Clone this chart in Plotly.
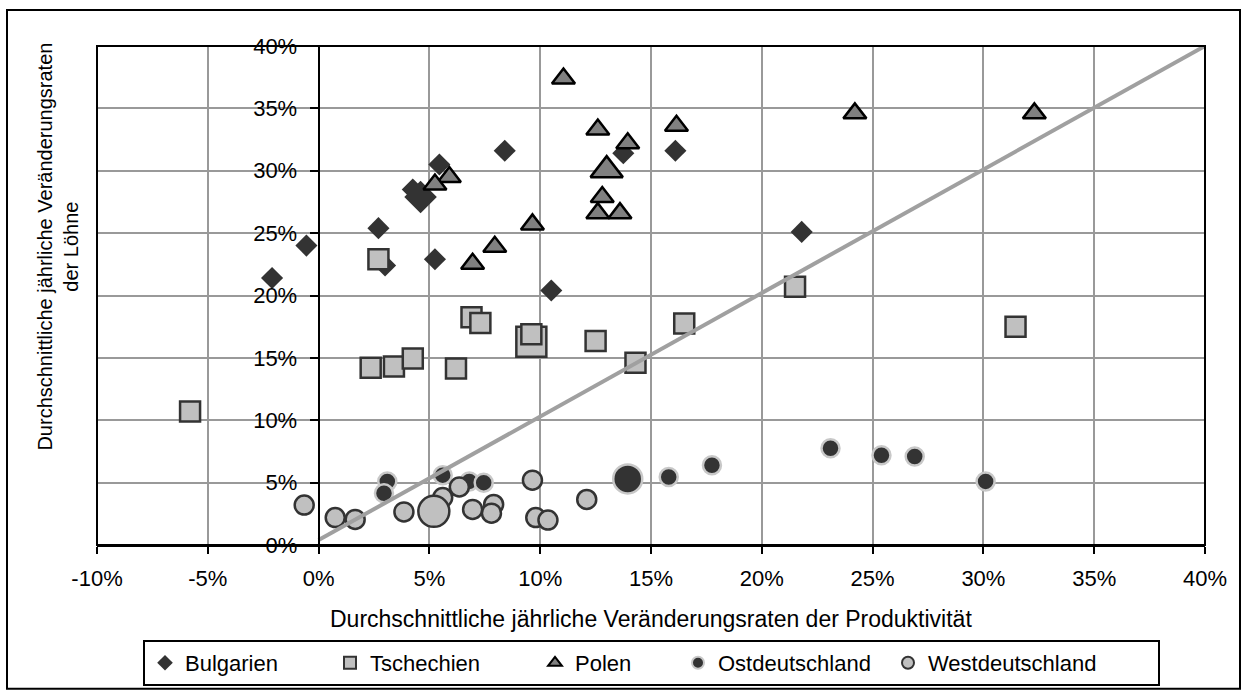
import plotly.graph_objects as go

# ---------------- data (percent) ----------------
bg_x = [-2.1, -0.55, 2.7, 3.0, 4.25, 5.45, 8.4, 5.25, 10.5, 13.75, 16.1, 21.8]
bg_y = [21.4, 24.0, 25.4, 22.4, 28.5, 30.5, 31.6, 22.9, 20.4, 31.4, 31.6, 25.1]
bg_avg = [4.6, 27.9]

cz_x = [-5.8, 2.7, 2.35, 3.4, 4.25, 6.2, 6.9, 7.3, 9.6, 12.5, 14.3, 16.5, 21.5, 31.45]
cz_y = [10.7, 22.9, 14.2, 14.3, 14.95, 14.15, 18.25, 17.8, 16.9, 16.35, 14.6, 17.75, 20.7, 17.5]
cz_avg = [9.6, 16.3]

pl_x = [11.05, 12.6, 13.95, 12.8, 12.6, 13.6, 16.15, 5.9, 5.25, 9.65, 7.95, 6.95, 24.2, 32.3]
pl_y = [37.4, 33.3, 32.2, 27.9, 26.6, 26.6, 33.6, 29.5, 28.9, 25.7, 23.9, 22.55, 34.6, 34.6]
pl_avg = [13.0, 30.05]

ost_x = [3.1, 2.95, 5.6, 6.8, 7.45, 15.8, 17.75, 23.1, 25.4, 26.9, 30.1]
ost_y = [5.1, 4.15, 5.6, 5.1, 5.0, 5.45, 6.4, 7.75, 7.2, 7.1, 5.1]
ost_avg = [13.95, 5.3]

we_x = [-0.65, 0.75, 1.65, 3.85, 5.6, 6.35, 6.95, 7.9, 7.8, 9.65, 9.8, 10.35, 12.1]
we_y = [3.2, 2.2, 2.05, 2.65, 3.8, 4.65, 2.85, 3.25, 2.55, 5.2, 2.2, 2.0, 3.65]
we_avg = [5.2, 2.7]

diag_x = [0, 40]
diag_y = [0.4, 40]

x_ticks = [-10, -5, 0, 5, 10, 15, 20, 25, 30, 35, 40]
x_tick_labels = ["-10%", "-5%", "0%", "5%", "10%", "15%", "20%", "25%", "30%", "35%", "40%"]
y_ticks = [0, 5, 10, 15, 20, 25, 30, 35, 40]
y_tick_labels = ["0%", "5%", "10%", "15%", "20%", "25%", "30%", "35%", "40%"]

FONT = "Arial, 'Liberation Sans', sans-serif"

fig = go.Figure()


def add_series(name, xs, ys, avg, avg_first, symbol, small, big, fill, lcolor, lwidth, lw):
    if avg_first:
        x = [avg[0]] + xs
        y = [avg[1]] + ys
        sizes = [big] + [small] * len(xs)
    else:
        x = xs + [avg[0]]
        y = ys + [avg[1]]
        sizes = [small] * len(xs) + [big]
    fig.add_trace(go.Scatter(
        x=x, y=y, mode="markers", name=name, legendwidth=lw,
        marker=dict(symbol=symbol, size=sizes, color=fill,
                    line=dict(color=lcolor, width=lwidth), opacity=1),
        cliponaxis=False,
    ))


add_series("Bulgarien", bg_x, bg_y, bg_avg, False, "diamond", 17, 25, "#333333", "#333333", 0, 140)
add_series("Tschechien", cz_x, cz_y, cz_avg, True, "square", 20, 30, "#c0c0c0", "#333333", 2.5, 160)
add_series("Polen", pl_x, pl_y, pl_avg, False, "triangle-up", 20, 28, "#808080", "#000000", 2.5, 98)
add_series("Ostdeutschland", ost_x, ost_y, ost_avg, False, "circle", 18, 29, "#333333", "#c8c8c8", 2.5, 165)
add_series("Westdeutschland", we_x, we_y, we_avg, False, "circle", 19, 31, "#c0c0c0", "#333333", 2.5, 225)

fig.add_trace(go.Scatter(
    x=diag_x, y=diag_y, mode="lines", showlegend=False,
    line=dict(color="#a0a0a0", width=4), hoverinfo="skip",
))

L, R, T, B = 97, 43, 46, 151
W, H = 1248, 697
pw = W - L - R
ph = H - T - B


def px2paper_x(px):
    return (px - L) / pw


def px2paper_y(py):
    return (H - B - py) / ph


fig.update_layout(
    width=W, height=H,
    margin=dict(l=L, r=R, t=T, b=B, pad=0),
    paper_bgcolor="white", plot_bgcolor="white",
    font=dict(family=FONT, size=20, color="#000000"),
    showlegend=True,
    legend=dict(
        orientation="h", x=px2paper_x(143), xanchor="left",
        y=px2paper_y(640), yanchor="top",
        bordercolor="#000000", borderwidth=2, bgcolor="white",
        font=dict(family=FONT, size=22, color="#000000"),
        itemsizing="constant",
    ),
    xaxis=dict(
        range=[-10, 40], tickvals=x_ticks, ticktext=x_tick_labels,
        showgrid=True, gridcolor="#999999", gridwidth=1.5,
        zeroline=False, showline=True, linecolor="#000000", linewidth=2,
        ticks="outside", ticklen=7, tickwidth=2, tickcolor="#000000",
        tickfont=dict(family=FONT, size=22, color="#000000"),
        ticklabelstandoff=6,
        mirror=False, fixedrange=True,
    ),
    yaxis=dict(
        range=[0, 40], tickvals=y_ticks, ticktext=y_tick_labels,
        showgrid=True, gridcolor="#999999", gridwidth=1.5,
        zeroline=False, showline=True, linecolor="#000000", linewidth=2,
        ticks="outside", ticklen=8, tickwidth=2, tickcolor="#000000",
        tickfont=dict(family=FONT, size=22, color="#000000"),
        ticklabelstandoff=8,
        anchor="free", position=(0 - (-10)) / 50,
        fixedrange=True,
    ),
    shapes=[
        dict(type="rect", xref="paper", yref="paper", x0=0, y0=0, x1=1, y1=1,
             line=dict(color="#000000", width=2), layer="above"),
        dict(type="rect", xref="paper", yref="paper",
             x0=px2paper_x(7), x1=px2paper_x(1240),
             y0=px2paper_y(690), y1=px2paper_y(10),
             line=dict(color="#000000", width=2), layer="above"),
    ],
    annotations=[
        dict(text="Durchschnittliche jährliche Veränderungsraten<br>der Löhne",
             xref="paper", yref="paper", x=px2paper_x(58), y=px2paper_y(247),
             xanchor="center", yanchor="middle", textangle=-90, showarrow=False,
             font=dict(family=FONT, size=20, color="#000000")),
        dict(text="Durchschnittliche jährliche Veränderungsraten der Produktivität",
             xref="paper", yref="paper", x=0.5, y=px2paper_y(620),
             xanchor="center", yanchor="middle", showarrow=False,
             font=dict(family=FONT, size=23, color="#000000")),
    ],
)

fig.write_html("out.html", config={"displayModeBar": False},
               post_script="document.body.style.margin='0';document.body.style.overflow='hidden';")
